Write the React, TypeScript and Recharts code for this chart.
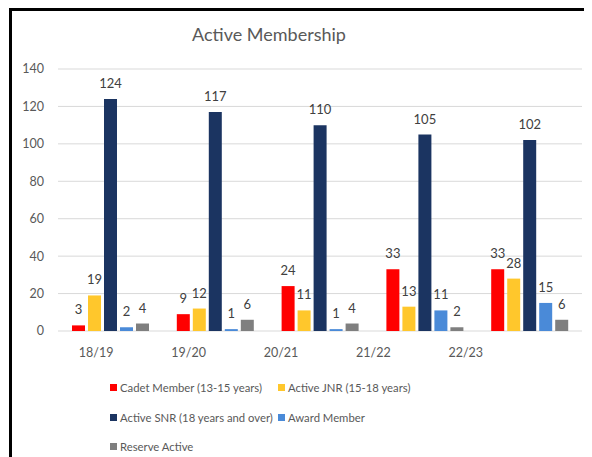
import { BarChart, Bar, XAxis, YAxis, CartesianGrid, LabelList } from 'recharts';

const seasons = ['18/19', '19/20', '20/21', '21/22', '22/23'];
const cadet = [3, 9, 24, 33, 33];
const activeJnr = [19, 12, 11, 13, 28];
const activeSnr = [124, 117, 110, 105, 102];
const award = [2, 1, 1, 11, 15];
const reserve = [4, 6, 4, 2, 6];
const yTicks = [0, 20, 40, 60, 80, 100, 120, 140];

const FONT = 'Lato, "Liberation Sans", sans-serif';

const series = [
  { key: 'cadet', name: 'Cadet Member (13-15 years)', color: '#FF0000', values: cadet },
  { key: 'activeJnr', name: 'Active JNR (15-18 years)', color: '#FFC72C', values: activeJnr },
  { key: 'activeSnr', name: 'Active SNR (18 years and over)', color: '#1B3461', values: activeSnr },
  { key: 'award', name: 'Award Member', color: '#4A8AD8', values: award },
  { key: 'reserve', name: 'Reserve Active', color: '#7F7F7F', values: reserve },
];

const data = seasons.map((season, i) => {
  const row: Record<string, string | number> = { season };
  series.forEach((s) => { row[s.key] = s.values[i]; });
  return row;
});

function LegendBox() {
  return (
    <div
      style={{
        position: 'absolute', left: 98, top: 362, width: 340,
        display: 'grid', gridTemplateColumns: '168px auto', gridAutoRows: '29.5px',
        alignItems: 'center', fontFamily: FONT, fontSize: 11.3, color: '#595959',
      }}
    >
      {series.map((s) => (
        <div key={s.key} style={{ display: 'flex', alignItems: 'center', whiteSpace: 'nowrap' }}>
          <span style={{ width: 7, height: 7, background: s.color, marginRight: 3, flex: 'none' }} />
          {s.name}
        </div>
      ))}
    </div>
  );
}

export default function App() {
  return (
    <div
      style={{
        position: 'relative', marginLeft: 1, width: 583, height: 449, boxSizing: 'border-box',
        borderTop: '3px solid #000', borderLeft: '3px solid #000', background: '#fff', overflow: 'hidden',
      }}
    >
      <div
        style={{
          position: 'absolute', left: 157, top: 11, width: 200, textAlign: 'center',
          fontFamily: FONT, fontSize: 18, color: '#595959', lineHeight: '24px',
        }}
      >
        Active Membership
      </div>
      <BarChart
        width={580}
        height={446}
        data={data}
        margin={{ top: 58, right: 10, left: 0, bottom: 96 }}
        barSize={13}
        barGap={3}
      >
        <CartesianGrid xAxisId="bars" vertical={false} stroke="#D9D9D9" />
        <XAxis xAxisId="bars" dataKey="season" hide height={0} />
        <XAxis
          xAxisId="labels"
          dataKey="season"
          axisLine={false}
          tickLine={false}
          tickMargin={11}
          padding={{ left: -8, right: 70 }}
          tick={{ fontSize: 12.5, fill: '#595959', fontFamily: FONT }}
        />
        <YAxis
          domain={[0, 140]}
          ticks={yTicks}
          width={46}
          axisLine={false}
          tickLine={false}
          tickMargin={8}
          tick={{ fontSize: 12.5, fill: '#595959', fontFamily: FONT }}
        />
        {series.map((s) => (
          <Bar key={s.key} xAxisId="bars" dataKey={s.key} name={s.name} fill={s.color} isAnimationActive={false}>
            <LabelList dataKey={s.key} position="top" offset={11} fill="#404040" fontSize={13} fontFamily={FONT} />
          </Bar>
        ))}
      </BarChart>
      <LegendBox />
    </div>
  );
}
